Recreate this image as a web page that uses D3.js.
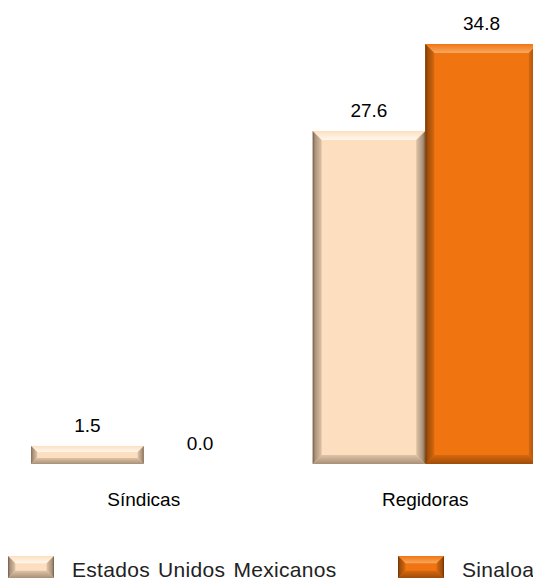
<!DOCTYPE html>
<html><head><meta charset="utf-8">
<script src="https://cdn.jsdelivr.net/npm/d3@7"></script>
<style>body{margin:0;background:#fff}svg{display:block;font-family:Arial,"Liberation Sans",sans-serif}</style>
</head><body>
<script>
const categories = ["Síndicas", "Regidoras"];
const seriesNames = ["Estados Unidos Mexicanos", "Sinaloa"];
const mexico = [1.5, 27.6];
const sinaloa = [0.0, 34.8];

const W = 533, H = 580;
const svg = d3.select("body").append("svg").attr("width", W).attr("height", H);
const defs = svg.append("defs");

const pal = [
  {base:"#FDDFC0", light:"#FFF7EC", dark:"#6E5A48", side:"#DEC3A6", bot:"#A89078"},
  {base:"#F07511", light:"#F8A860", dark:"#6A3204", side:"#D6680E", bot:"#9E4C08"}
];
pal.forEach((p,i)=>{
  const mk=(id,x1,y1,x2,y2,stops)=>{const g=defs.append("linearGradient").attr("id",id).attr("x1",x1).attr("y1",y1).attr("x2",x2).attr("y2",y2);
    stops.forEach(s=>g.append("stop").attr("offset",s[0]).attr("stop-color",s[1]));};
  mk("L"+i,0,0,1,0,[["0%",p.dark],["25%",p.bot],["100%",p.side]]);
  mk("R"+i,0,0,1,0,[["0%",p.side],["75%",p.bot],["100%",p.dark]]);
  mk("T"+i,0,0,0,1,[["0%",p.base],["100%",p.light]]);
  mk("B"+i,0,0,0,1,[["0%",p.side],["100%",p.bot]]);
});

const baseY = 464;
const y = d3.scaleLinear().domain([0, 34.8]).range([baseY, 44]);
const x0 = d3.scaleBand().domain(categories).range([3, 566]).paddingInner(0.2).paddingOuter(0.1);
const x1 = d3.scaleBand().domain([0,1]).range([0, x0.bandwidth()]);

function bevelBar(g, x, yt, w, h, i){
  if (h <= 0) return;
  const b = Math.min(9, h/3);
  const x2 = x + w, yb = yt + h;
  g.append("rect").attr("x",x).attr("y",yt).attr("width",w).attr("height",h).attr("fill",pal[i].base);
  g.append("polygon").attr("points",[[x,yt],[x2,yt],[x2-b,yt+b],[x+b,yt+b]].join(" ")).attr("fill",`url(#T${i})`);
  g.append("polygon").attr("points",[[x,yb],[x2,yb],[x2-b,yb-b],[x+b,yb-b]].join(" ")).attr("fill",`url(#B${i})`);
  g.append("polygon").attr("points",[[x,yt],[x+b,yt+b],[x+b,yb-b],[x,yb]].join(" ")).attr("fill",`url(#L${i})`);
  g.append("polygon").attr("points",[[x2,yt],[x2-b,yt+b],[x2-b,yb-b],[x2,yb]].join(" ")).attr("fill",`url(#R${i})`);
}

const data = [mexico, sinaloa];
categories.forEach((c, ci) => {
  const g = svg.append("g");
  data.forEach((s, si) => {
    const v = s[ci];
    const bx = x0(c) + x1(si), bw = x1.bandwidth();
    bevelBar(g, bx, y(v), bw, baseY - y(v), si);
    g.append("text").attr("x", bx + bw/2).attr("y", y(v) - 14)
      .attr("text-anchor","middle").attr("font-size",19).attr("fill","#000").text(v.toFixed(1));
  });
  svg.append("text").attr("x", x0(c) + x0.bandwidth()/2).attr("y", 506)
    .attr("text-anchor","middle").attr("font-size",19).attr("fill","#000").text(c);
});

// legend
const legX = [8, 398];
seriesNames.forEach((n, i) => {
  const g = svg.append("g");
  bevelBar(g, legX[i], 556, 46, 22, i);
  g.append("text").attr("x", legX[i] + 64).attr("y", 577).attr("font-size",21)
    .attr("letter-spacing", 0.3).attr("word-spacing", 2).attr("fill","#222").text(n);
});
</script>
</body></html>
